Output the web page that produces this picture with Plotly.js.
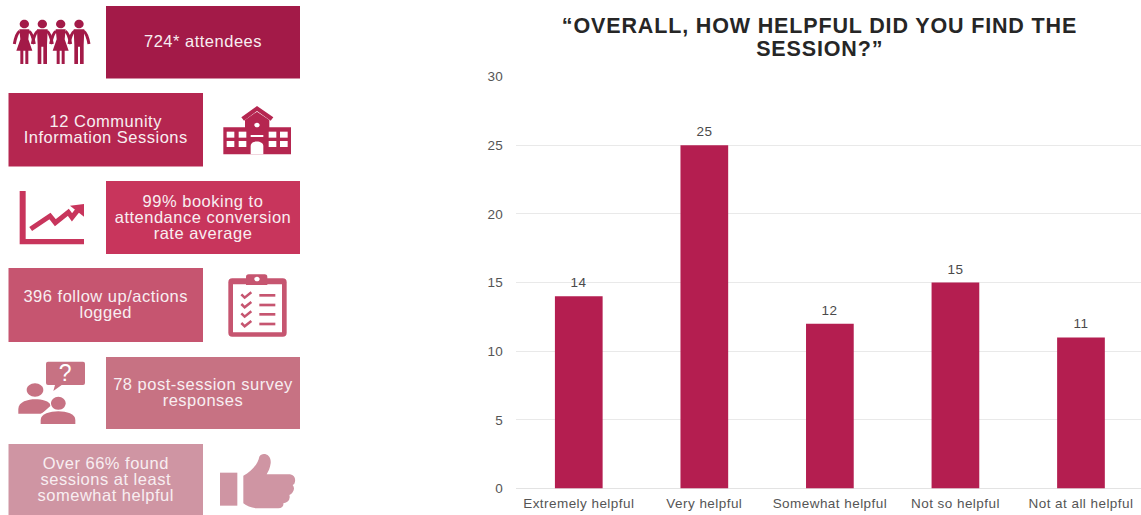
<!DOCTYPE html>
<html>
<head>
<meta charset="utf-8">
<script src="https://cdn.plot.ly/plotly-3.0.1.min.js"></script>
<style>
html,body{margin:0;padding:0;background:#fff;overflow:hidden}
#chart{width:1141px;height:515px}
/* Slightly open tracking for the tile, heading and axis text */
#chart .textpoint text{letter-spacing:.5px}
#chart .xtick text,#chart .ytick text{letter-spacing:.45px}
#chart .annotation-text{letter-spacing:.45px}
#chart .annotation.heading .annotation-text{letter-spacing:.85px}
</style>
</head>
<body>
<div id="chart"></div>
<script>
// Survey responses
const categories = ["Extremely helpful", "Very helpful", "Somewhat helpful", "Not so helpful", "Not at all helpful"];
const responses = [14, 25, 12, 15, 11];
const yTicks = [0, 5, 10, 15, 20, 25, 30];
const titleLines = ["“OVERALL, HOW HELPFUL DID YOU FIND THE", "SESSION?”"];

// Headline figures shown as tiles
const tileLines = [
  ["724* attendees"],
  ["12 Community", "Information Sessions"],
  ["99% booking to", "attendance conversion", "rate average"],
  ["396 follow up/actions", "logged"],
  ["78 post-session survey", "responses"],
  ["Over 66% found", "sessions at least", "somewhat helpful"]
];
const tileColors = ["#A31A48", "#B52650", "#C8355C", "#C65570", "#C77283", "#CF95A3"];

const W = 1141, H = 515;
const LEFT = [106, 300], RIGHT = [8.5, 203];
const tileBoxes = [
  [LEFT, 6, 78.5], [RIGHT, 93, 166.5], [LEFT, 181, 254],
  [RIGHT, 268, 342], [LEFT, 357, 429], [RIGHT, 444, 516]
];

const shapes = tileBoxes.map((b, i) => ({
  type: "rect", xref: "x2", yref: "y2", layer: "below",
  x0: b[0][0], x1: b[0][1], y0: b[1], y1: b[2],
  fillcolor: tileColors[i], line: {width: 0}
}));

const textX = [], textY = [], textS = [];
tileLines.forEach((lines, i) => {
  const b = tileBoxes[i];
  const cx = (b[0][0] + b[0][1]) / 2, cy = (b[1] + b[2]) / 2;
  lines.forEach((t, k) => {
    textX.push(cx);
    textY.push(cy + 1 + 16 * (k - (lines.length - 1) / 2));
    textS.push(t);
  });
});

// Icons are authored on a 3x grid with a vertical offset, then scaled down to page pixels.
function iconPath(d, oy) {
  return d.replace(/(-?[\d.]+),(-?[\d.]+)/g, (m, a, b) => (a / 3).toFixed(2) + "," + (b / 3 + oy).toFixed(2));
}
function fillIcon(d, color, oy) {
  shapes.push({type: "path", xref: "x2", yref: "y2", layer: "above", path: iconPath(d, oy || 0), fillcolor: color, line: {width: 0}});
}
function strokeIcon(d, color, w, oy) {
  shapes.push({type: "path", xref: "x2", yref: "y2", layer: "above", path: iconPath(d, oy || 0), fillcolor: "rgba(0,0,0,0)", line: {width: w, color: color}});
}
function circle(cx, cy, rx, ry) {
  return `M${cx - rx},${cy} C${cx - rx},${cy - ry * 0.55} ${cx - rx * 0.55},${cy - ry} ${cx},${cy - ry} C${cx + rx * 0.55},${cy - ry} ${cx + rx},${cy - ry * 0.55} ${cx + rx},${cy} C${cx + rx},${cy + ry * 0.55} ${cx + rx * 0.55},${cy + ry} ${cx},${cy + ry} C${cx - rx * 0.55},${cy + ry} ${cx - rx},${cy + ry * 0.55} ${cx - rx},${cy} Z`;
}

// Group of four people holding hands
const c1 = tileColors[0];
[[73, true], [127, false], [182, true], [237, false]].forEach(([x, dress]) => {
  fillIcon(circle(x, 72, 14, 13), c1);
  strokeIcon(`M${x - 14},94 Q${x - 24},100 ${x - 30},132`, c1, 3);
  strokeIcon(`M${x + 14},94 Q${x + 24},100 ${x + 30},132`, c1, 3);
  if (dress) {
    fillIcon(`M${x - 15},88 L${x + 15},88 L${x + 12},118 L${x + 24},152 L${x + 12},152 L${x + 12},192 L${x + 3},192 L${x + 3},152 L${x - 3},152 L${x - 3},192 L${x - 12},192 L${x - 12},152 L${x - 24},152 L${x - 12},118 Z`, c1);
  } else {
    fillIcon(`M${x - 16},88 L${x + 16},88 L${x + 14},135 L${x + 14},192 L${x + 3},192 L${x + 3},140 L${x - 3},140 L${x - 3},192 L${x - 14},192 L${x - 14},135 Z`, c1);
  }
});

// School building
const c2 = tileColors[1];
fillIcon("M670,382 L735,382 L735,360 L771,335 L808,360 L808,382 L873,382 L873,463 L670,463 Z", c2);
fillIcon("M771,318 L820,352 L812,362 L771,333 L732,362 L724,352 Z", c2);
[[680, 395], [716, 395], [680, 423], [716, 423], [806, 395], [840, 395], [806, 423], [840, 423]].forEach(([x, y]) => {
  fillIcon(`M${x},${y} L${x + 23},${y} L${x + 23},${y + 18} L${x},${y + 18} Z`, "#ffffff");
});
fillIcon("M752,405 L790,405 L790,411 L752,411 Z", "#ffffff");
fillIcon("M752,463 L752,438 C752,420 790,420 790,438 L790,463 Z", "#ffffff");
fillIcon(circle(771, 375, 8, 7), "#ffffff");

// Rising trend chart
const c3 = tileColors[2];
fillIcon("M59,573 L77,573 L77,717 L252,717 L252,733 L59,733 Z", c3);
strokeIcon("M92,687 L150,648 L166,668 L205,637 L216,652 L232,632", c3, 5);
fillIcon("M210,617 L252,612 L252,650 Z", c3);

// Clipboard checklist
const c4 = tileColors[3], oy4 = 255;
fillIcon("M697,70 L848,70 Q860,70 860,82 L860,233 Q860,245 848,245 L697,245 Q685,245 685,233 L685,82 Q685,70 697,70 Z", c4, oy4);
fillIcon("M699,88 L846,88 L846,232 L699,232 Z", "#ffffff", oy4);
fillIcon("M738,90 L738,66 Q738,58 746,58 L794,58 Q802,58 802,66 L802,90 Z", c4, oy4);
fillIcon(circle(771, 72, 8, 7), "#ffffff", oy4);
[121, 150, 178, 207].forEach(y => {
  strokeIcon(`M724,${y - 3} L734,${y + 7} L754,${y - 9}`, c4, 2.5, oy4);
  fillIcon(`M778,${y - 4} L826,${y - 4} L826,${y + 4} L778,${y + 4} Z`, c4, oy4);
});

// Two people talking, with a question bubble
const c5 = tileColors[4], oy5 = 255;
fillIcon("M144,320 L249,320 Q255,320 255,326 L255,384 Q255,390 249,390 L185,390 L160,408 L165,390 L144,390 Q138,390 138,384 L138,326 Q138,320 144,320 Z", c5, oy5);
fillIcon(circle(105, 405, 25, 20), c5, oy5);
fillIcon("M55,476 L55,462 C55,440 85,433 105,433 C125,433 150,438 152,452 L125,476 Z", c5, oy5);
fillIcon(circle(175, 445, 25, 23), "#ffffff", oy5);
fillIcon(circle(175, 445, 22, 20), c5, oy5);
fillIcon("M112,512 L112,495 C112,470 150,464 175,464 C200,464 236,470 236,495 L236,512 Z", "#ffffff", oy5);
fillIcon("M122,507 L122,495 C122,477 150,469 175,469 C200,469 226,477 226,495 L226,507 Z", c5, oy5);

// Thumbs up
const c6 = tileColors[5], oy6 = 255;
fillIcon("M660,653 L712,653 L712,752 L660,752 Z", c6, oy6);
fillIcon("M730,662 C755,650 775,625 778,605 C785,590 815,595 812,625 C810,640 805,650 800,658 L870,658 Q888,662 885,680 Q884,688 878,690 Q886,700 878,712 Q874,718 868,720 Q872,732 862,740 Q856,744 850,745 Q852,758 835,760 L770,760 Q745,758 730,745 Z", c6, oy6);

const plotTop = 76.5, plotBottom = 488.5, plotLeft = 516;
const step = 125.5, firstCenter = 579;
const sans = "Liberation Sans, Arial, sans-serif";

const labelAnnotations = categories.map((c, i) => ({
  x: c, y: responses[i], xref: "x", yref: "y",
  text: String(responses[i]), showarrow: false, yanchor: "bottom", yshift: 4,
  font: {family: sans, size: 13.5, color: "#4a4a4a"}
}));

const questionMark = {
  x: 65.5, y: 373, xref: "x2", yref: "y2", text: "?", showarrow: false,
  font: {family: sans, size: 23, color: "#ffffff"}
};

const titleAnnotations = titleLines.map((t, i) => ({
  x: 819, y: 26 + 23 * i, xref: "x2", yref: "y2", text: t, showarrow: false,
  xanchor: "center", yanchor: "middle",
  font: {family: sans, size: 21.5, color: "#262626", weight: 700}
}));

const traces = [
  {
    type: "scatter", mode: "text", xaxis: "x2", yaxis: "y2",
    x: textX, y: textY, text: textS, textposition: "middle center",
    textfont: {family: sans, size: 16.5, color: "#f8eef1"},
    hoverinfo: "skip", showlegend: false
  },
  {
    type: "bar", x: categories, y: responses, width: 0.38,
    marker: {color: "#B41E50"}, hoverinfo: "x+y", showlegend: false
  }
];

const tickFont = {family: sans, size: 13.5, color: "#555555"};

const layout = {
  width: W, height: H,
  margin: {l: 0, r: 0, t: 0, b: 0},
  paper_bgcolor: "#ffffff", plot_bgcolor: "rgba(0,0,0,0)",
  font: tickFont,
  showlegend: false,
  xaxis: {
    domain: [plotLeft / W, 1], type: "category",
    range: [-0.5, (W - firstCenter) / step],
    tickfont: tickFont, ticks: "outside", ticklen: 2, tickcolor: "rgba(0,0,0,0)",
    showgrid: false, showline: false, zeroline: false, automargin: false
  },
  yaxis: {
    domain: [(H - plotBottom) / H, (H - plotTop) / H], range: [0, 30],
    tickvals: yTicks, ticktext: yTicks.map(String), tickfont: tickFont,
    ticks: "outside", ticklen: 9, tickcolor: "rgba(0,0,0,0)",
    gridcolor: "#e9e9e9", gridwidth: 1, zeroline: true, zerolinecolor: "#e3e3e3", zerolinewidth: 1,
    showline: false, automargin: false
  },
  xaxis2: {domain: [0, 1], range: [0, W], anchor: "y2", visible: false, fixedrange: true},
  yaxis2: {domain: [0, 1], range: [H, 0], anchor: "x2", visible: false, fixedrange: true},
  shapes: shapes,
  annotations: labelAnnotations.concat([questionMark], titleAnnotations)
};

Plotly.newPlot("chart", traces, layout, {displayModeBar: false, responsive: false}).then(gd => {
  // Heading lines get their own wider tracking
  gd.querySelectorAll(".annotation").forEach(a => {
    if (a.textContent.indexOf("OVERALL") >= 0 || a.textContent.indexOf("SESSION") >= 0) a.classList.add("heading");
  });
});
</script>
</body>
</html>
